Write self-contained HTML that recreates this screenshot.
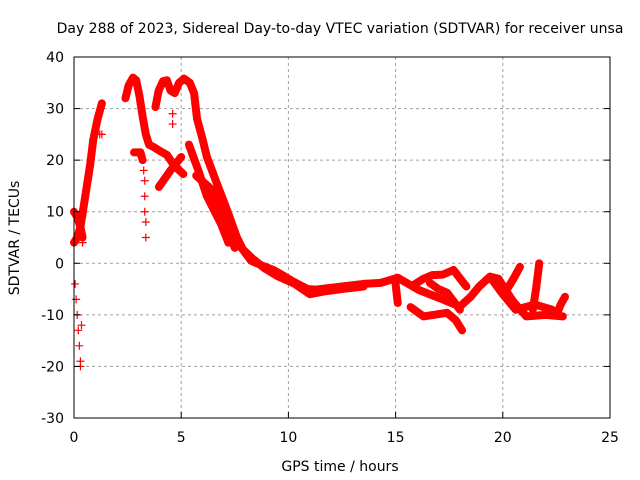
<!DOCTYPE html>
<html><head><meta charset="utf-8"><style>
body{margin:0;background:#fff}
svg{display:block;font-family:"DejaVu Sans","Liberation Sans",sans-serif}
</style></head><body>
<svg id="chart" width="640" height="480" viewBox="0 0 640 480">
<rect width="640" height="480" fill="#fff"/>
<text x="340" y="33" font-size="14" text-anchor="middle">Day 288 of 2023, Sidereal Day-to-day VTEC variation (SDTVAR) for receiver unsa</text>
<g id="grid"></g>
<g id="series"></g>
<rect x="74" y="57" width="536" height="361" fill="none" stroke="#000" stroke-width="1"/>
<g id="ticks"></g>
<text x="340" y="471" font-size="14" text-anchor="middle">GPS time / hours</text>
<text transform="translate(19,238) rotate(-90)" font-size="14" text-anchor="middle">SDTVAR / TECUs</text>
</svg>
<script>
const xTicks=[0,5,10,15,20,25];
const yTicks=[-30,-20,-10,0,10,20,30,40];
const bandEarlyRise=[[0,4],[0.15,5],[0.3,7],[0.45,11],[0.6,15],[0.75,19],[0.9,24],[1.1,28],[1.3,31]];
const bandEarlyTop=[[0,10],[0.15,9],[0.3,7],[0.4,5]];
const sparseEarlyDip=[[0.05,-4],[0.1,-7],[0.15,-10],[0.2,-13],[0.25,-16],[0.3,-19],[0.3,-20],[0.35,-12],[1.3,25],[1.2,25],[0.4,4]];
const bandPeak1=[[2.4,32],[2.55,34.5],[2.75,36],[2.9,35.5],[3.05,32.5],[3.2,28.5],[3.35,25],[3.5,23],[3.73,22.5],[4.0,21.8],[4.34,21],[4.66,19],[5.1,17.3]];
const bandCross=[[3.96,14.8],[4.5,18],[5.0,20.6]];
const bandShort=[[2.8,21.5],[3.1,21.5],[3.2,20]];
const sparseDrop=[[3.25,18],[3.3,16],[3.3,13],[3.3,10],[3.35,8],[3.35,5],[4.6,29],[4.6,27]];
const bandMain=[[3.8,30.3],[3.95,33.5],[4.15,35.3],[4.33,35.5],[4.5,33.5],[4.7,33],[4.9,35],[5.13,35.8],[5.4,35],[5.6,33],[5.74,28],[6.0,24],[6.2,20.6],[6.67,15.4],[7.14,10.3],[7.6,5],[7.9,2.5],[8.26,0.5],[8.8,-0.5],[9.3,-1.3],[9.6,-2],[10.2,-3.5],[10.9,-5],[11.3,-5.1],[12.5,-4.5],[13.5,-4],[14.3,-3.8],[15.1,-2.8],[15.6,-4],[16.1,-5.2],[17.2,-7],[18.0,-8.4],[18.5,-6.5],[18.9,-4.5],[19.4,-2.6],[19.8,-3],[20.1,-5],[20.5,-7.5],[21.1,-10.3],[22.0,-10],[22.8,-10.3]];
const bandMain2=[[7.4,6],[7.8,3],[8.3,1],[8.9,-1],[9.5,-2.5],[10.3,-4],[11.0,-6],[11.6,-5.5],[12.5,-5],[13.5,-4.5]];
const bandBranch2=[[5.36,23],[5.8,18],[6.2,13],[6.86,7.6],[7.2,4]];
const bandBranch3=[[5.7,17],[6.1,15.5],[6.5,14],[7.0,8],[7.5,3]];
const bandUpper=[[15.8,-4.3],[16.3,-3],[16.7,-2.3],[17.2,-2.2],[17.7,-1.3],[18.3,-4.5]];
const bandLower=[[15.7,-8.5],[16.3,-10.3],[17.4,-9.6],[17.8,-11],[18.1,-13]];
const bandMid=[[16.6,-3.8],[17.0,-5],[17.4,-5.7],[18.0,-9]];
const bandSide=[[15.0,-4],[15.1,-7.7]];
const bandSpike1=[[20.2,-5],[20.5,-3],[20.8,-0.7]];
const bandSpike2=[[21.4,-9],[21.55,-5],[21.7,0]];
const bandSpike3=[[22.5,-10],[22.7,-8],[22.9,-6.5]];
const bandRight=[[19.4,-2.6],[20.0,-6],[20.6,-9],[21.5,-8],[22.3,-9]];
const bands=[bandEarlyRise,bandEarlyTop,bandPeak1,bandCross,bandShort,bandMain,bandMain2,bandBranch2,bandBranch3,bandUpper,bandLower,bandMid,bandSide,bandSpike1,bandSpike2,bandSpike3,bandRight];
const sparse=[sparseEarlyDip,sparseDrop];

const X=v=>74+v*(536/25), Y=v=>418-(v+30)*(361/70);
const NS='http://www.w3.org/2000/svg';
const grid=document.getElementById('grid'),ticks=document.getElementById('ticks'),ser=document.getElementById('series');
function mk(tag,attrs,parent){const e=document.createElementNS(NS,tag);for(const k in attrs)e.setAttribute(k,attrs[k]);parent.appendChild(e);return e;}
xTicks.forEach(t=>{
  if(t>0&&t<25){const l=mk('line',{x1:X(t),x2:X(t),y1:57,y2:418,stroke:'#a0a0a0','stroke-dasharray':'3,3'},grid);
  
  }
  const tk=mk('line',{x1:X(t),x2:X(t),y1:418,y2:412,stroke:'#000'},ticks);
  
  
  const tx=mk('text',{x:X(t),y:442,'font-size':14,'text-anchor':'middle'},ticks);tx.textContent=t;
  
  
});
yTicks.forEach(t=>{
  if(t>-30&&t<40){const l=mk('line',{x1:74,x2:610,y1:Y(t),y2:Y(t),stroke:'#a0a0a0','stroke-dasharray':'3,3'},grid);
  
  }
  const tk=mk('line',{x1:74,x2:80,y1:Y(t),y2:Y(t),stroke:'#000'},ticks);
  
  
  const tk2=mk('line',{x1:604,x2:610,y1:Y(t),y2:Y(t),stroke:'#000'},ticks);
  
  
  const tx=mk('text',{x:64,y:Y(t)+5,'font-size':14,'text-anchor':'end'},ticks);tx.textContent=t;
  
  
});
bands.forEach(b=>{
  const p=mk('polyline',{points:b.map(d=>X(d[0])+','+Y(d[1])).join(' '),fill:'none',stroke:'#f00','stroke-width':8,'stroke-linejoin':'round','stroke-linecap':'round'},ser);
  
  
});
sparse.forEach(s=>s.forEach(d=>{
  const cx=X(d[0]),cy=Y(d[1]);
  const g=mk('path',{d:`M${cx-4},${cy}H${cx+4}M${cx},${cy-4}V${cy+4}`,stroke:'#f00','stroke-width':1.2},ser);
  
  
}));
</script>
</body></html>
